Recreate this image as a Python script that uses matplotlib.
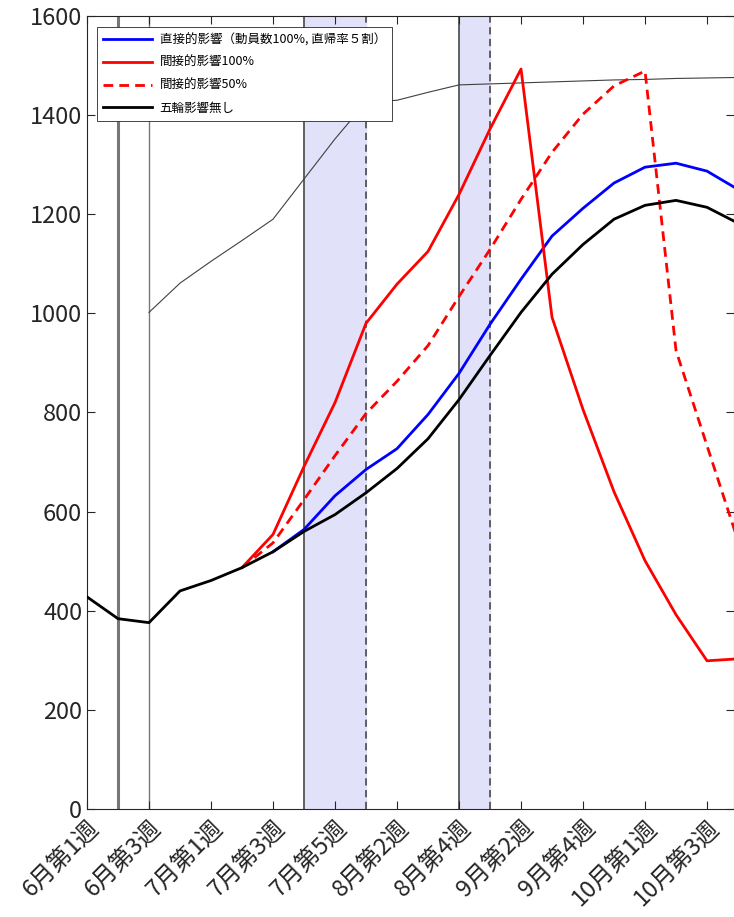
import matplotlib
matplotlib.use("Agg")
import matplotlib.pyplot as plt
import numpy as np

plt.rcParams['font.family'] = ['Noto Sans CJK JP', 'DejaVu Sans']

# weekly index (0 = 6月第1週)
weeks = np.arange(22)

tick_pos = [0, 2, 4, 6, 8, 10, 12, 14, 16, 18, 20]
tick_labels = ["6月第1週", "6月第3週", "7月第1週", "7月第3週", "7月第5週", "8月第2週",
               "8月第4週", "9月第2週", "9月第4週", "10月第1週", "10月第3週"]

# 五輪影響無し
base = [428, 384, 376, 440, 461, 487, 519, 560, 594, 638, 687, 747, 826, 915,
        1002, 1079, 1139, 1190, 1218, 1228, 1214, 1182]
# 直接的影響 (starts at week 6)
direct = [519, 564, 632, 685, 727, 796, 879, 978, 1069, 1156, 1212, 1263,
          1295, 1303, 1287, 1250]
# 間接的影響100% (starts at week 5)
indirect100 = [487, 554, 691, 820, 980, 1059, 1125, 1240, 1372, 1493, 992, 806,
               640, 501, 392, 299, 303]
# 間接的影響50% (starts at week 5)
indirect50 = [487, 537, 624, 713, 798, 863, 935, 1034, 1129, 1230, 1325, 1402,
              1459, 1489, 925, 733, 541]
# thin reference line (starts at week 2)
ref_line = [1002, 1061, 1105, 1147, 1190, 1271, 1352, 1426, 1430, 1446, 1461,
            1463, 1465, 1467, 1469, 1471, 1472, 1474, 1475, 1476]

spans = [(7, 9), (12, 13)]

fig = plt.figure(figsize=(7.34, 9.17), dpi=100)
ax = fig.add_axes([87/734, 108/917, 647/734, 793/917])

for a, b in spans:
    ax.axvspan(a, b, color="#e1e1fa", zorder=0)
    ax.axvline(a, color="#555555", lw=1.3, zorder=1)
    ax.axvline(b, color="#555555", lw=1.3, ls=(0, (4, 2.5)), zorder=1)

ax.axvline(1, color="#777777", lw=2.2, zorder=1)
ax.axvline(2, color="#777777", lw=1.0, zorder=1)

ax.plot(weeks[2:], ref_line, color="#404040", lw=0.8, zorder=2)
ax.plot(weeks[6:], direct, color="#0000ff", lw=2, label="直接的影響（動員数100%, 直帰率５割）", zorder=4)
ax.plot(weeks[5:], indirect100, color="#ff0000", lw=2, label="間接的影響100%", zorder=4)
ax.plot(weeks[5:], indirect50, color="#ff0000", lw=2, ls=(0, (3.5, 2.2)), label="間接的影響50%", zorder=4)
ax.plot(weeks, base, color="#000000", lw=2, label="五輪影響無し", zorder=5)

ax.set_xlim(0, 20.87)
ax.set_ylim(0, 1600)
ax.set_yticks(np.arange(0, 1601, 200))
ax.set_xticks(tick_pos)
ax.set_xticklabels(tick_labels, rotation=45, ha="right", rotation_mode="anchor")

ax.tick_params(direction="in", length=6, width=0.8, colors="#262626",
               top=True, right=True, labelsize=17)
ax.tick_params(axis="x", labelsize=17, pad=5)
for s in ax.spines.values():
    s.set_color("#262626")
    s.set_linewidth(0.8)

leg = ax.legend(loc="upper left", bbox_to_anchor=(0.0155, 0.986), borderaxespad=0,
                fontsize=9, frameon=True, fancybox=False, framealpha=1,
                edgecolor="#262626", handlelength=3.9, handletextpad=0.6,
                borderpad=0.5, labelspacing=0.78)
leg.get_frame().set_linewidth(0.6)

fig.savefig("out.png", dpi=100)
